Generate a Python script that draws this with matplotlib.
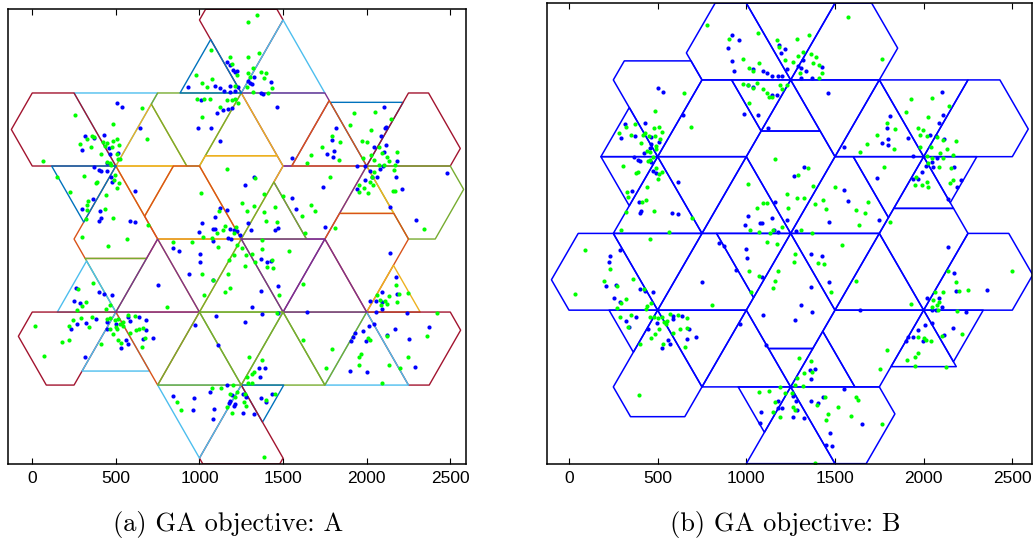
import numpy as np
import matplotlib
matplotlib.use("Agg")
import matplotlib.pyplot as plt

# cell sites (data units)
site_x = [1250, 1250, 2000, 2000, 1250, 500, 500]
site_y = [0, 866, 433, -433, -866, -433, 433]

# MATLAB line colours used for the sector outlines of panel (a)
palette = ["#0072BD", "#D95319", "#EDB120", "#7E2F8E", "#77AC30", "#4DBEEE", "#A2142F"]

# panel (a) sectors: site index, azimuth (deg), triangle side, cap length, colour index
a_site = [6, 6, 6, 6, 6, 6,
          1, 1, 1, 1, 1, 1,
          2, 2, 2, 2, 2, 2,
          3, 3, 3, 3, 3, 3,
          0, 0, 0, 0, 0, 0,
          5, 5, 5, 5, 5, 5,
          4, 4, 4, 4, 4, 4]
a_azim = [90, 150, 30, 330, 270, 210,
          90, 30, 330, 270, 210, 150,
          90, 30, 330, 270, 210, 150,
          90, 30, 330, 270, 210, 150,
          90, 30, 150, 210, 270, 330,
          90, 150, 210, 270, 330, 30,
          90, 30, 330, 270, 210, 150]
a_side = [500, 500, 424, 344, 500, 384,
          500, 500, 500, 430, 500, 366,
          436, 500, 500, 324, 500, 448,
          500, 320, 500, 500, 500, 500,
          500, 390, 500, 500, 500, 500,
          367, 350, 500, 404, 500, 500,
          500, 500, 254, 500, 500, 500]
a_cap = [0, 250, 0, 0, 133, 0,
         73, 0, 52, 0, 76, 0,
         0, 120, 160, 0, 110, 0,
         175, 0, 124, 0, 0, 0,
         70, 0, 156, 0, 0, 0,
         0, 0, 166, 0, 0, 0,
         0, 0, 0, 40, 0, 0]
a_col = [5, 6, 2, 2, 1, 0,
         6, 5, 3, 2, 4, 0,
         0, 6, 4, 2, 3, 1,
         1, 2, 6, 5, 4, 3,
         2, 4, 1, 2, 4, 3,
         4, 5, 6, 5, 1, 3,
         4, 4, 0, 6, 5, 4]

# panel (b) sectors: site index, azimuth, triangle side, cap length
b_site = [6, 6, 6, 6, 6, 6,
          1, 1, 1, 1, 1, 1,
          0, 0, 0, 0, 0, 0,
          2, 2, 2, 2, 2, 2,
          3, 3, 3, 3, 3, 3,
          4, 4, 4, 4, 4, 4,
          5, 5, 5, 5, 5, 5]
b_azim = [90, 150, 210, 270, 330, 30,
          30, 90, 150, 210, 270, 330,
          30, 90, 150, 210, 270, 330,
          30, 90, 150, 210, 270, 330,
          30, 90, 150, 210, 270, 330,
          30, 90, 150, 210, 270, 330,
          30, 90, 150, 210, 270, 330]
b_side = [500, 320, 320, 500, 500, 500,
          500, 500, 500, 333, 333, 500,
          500, 500, 500, 418, 500, 500,
          500, 500, 500, 397, 337, 300,
          500, 500, 500, 500, 368, 336,
          362, 250, 500, 296, 500, 500,
          500, 500, 500, 274, 500, 500]
b_cap = [124, 0, 0, 0, 0, 167,
         207, 0, 176, 0, 0, 0,
         103, 167, 0, 0, 250, 0,
         180, 0, 0, 0, 0, 0,
         230, 163, 0, 138, 0, 0,
         0, 0, 0, 0, 0, 176,
         82, 0, 198, 0, 194, 0]

# user positions, panel (a)
a_blue = [(505, 808), (535, 784), (645, 656), (316, 610), (429, 614), (372, 597), (296, 529), (461, 537),
          (515, 512), (465, 504), (449, 452), (372, 425), (400, 409), (414, 403), (445, 405), (475, 340),
          (471, 369), (362, 235), (296, 181), (406, 167), (615, 282), (585, 106), (617, 102), (412, 122),
          (400, 106), (934, 903), (990, 660), (1068, 660), (1120, 581), (1012, 826), (1094, 907), (1124, 893),
          (1144, 879), (1180, 873), (1213, 879), (1233, 903), (1104, 749), (1140, 765), (1168, 772), (1194, 774),
          (1166, 1051), (1180, 1031), (1198, 1002), (1213, 992), (1227, 998), (1184, 907), (1124, 185), (1164, 171),
          (1014, 96), (998, 43), (1078, 57), (1094, 57), (1184, 57), (1204, 53), (1223, 49), (1094, 132),
          (1168, 9), (1188, 3), (1243, 23),
          (1293, 939), (1303, 923), (1327, 962), (1313, 919), (1367, 867), (1377, 858), (1426, 929), (1462, 784),
          (1552, 480), (1817, 656), (1795, 587), (1807, 523), (1762, 502), (1797, 488), (2101, 784), (2115, 662),
          (2107, 656), (2087, 612), (2041, 547), (2117, 555), (2101, 517), (1941, 432), (1987, 432), (2017, 405),
          (2077, 417), (2097, 432), (2181, 464), (2175, 369), (2210, 294), (2137, 191), (1991, 349), (1941, 296),
          (2031, 369), (2061, 367), (2480, 393), (2296, 112), (1325, 369), (1273, 320), (1552, 241), (1578, 179),
          (1738, 306), (1752, 69), (1293, 96), (1307, 53), (1452, 53), (1472, 63),
          (1004, -89), (1006, -139), (876, -70), (844, -56), (940, -210), (753, -273), (1078, -10), (1080, -240),
          (1100, -457), (1110, -629), (972, -510), (262, -289), (252, -366), (286, -382), (230, -536), (266, -505),
          (402, -313), (429, -327), (477, -333), (380, -477), (322, -495), (445, -491), (499, -501), (449, -536),
          (575, -465), (585, -485), (641, -465), (679, -481), (679, -540), (721, -584), (559, -599), (571, -623),
          (529, -649), (316, -702), (665, -590), (844, -930), (970, -945), (960, -1015), (1080, -1070), (1064, -906),
          (1194, -926), (1174, -975), (1180, -959), (1213, -979), (1204, -989), (1084, -1005), (1164, -866),
          (1367, -121), (1402, -135), (1426, -129), (1367, -307), (1317, -402), (1373, -445), (1273, -491), (1472, -279),
          (1646, -431), (1468, -437), (2141, -81), (2091, -313), (2021, -366), (2055, -366), (2091, -372), (2091, -412),
          (2055, -431), (2181, -323), (2175, -224), (2240, -441), (2011, -516), (1977, -546), (1931, -556), (1917, -580),
          (1907, -605), (1995, -605), (2041, -501), (2121, -570), (2171, -534), (2254, -590), (2370, -520), (2290, -758),
          (2001, -787), (1901, -781), (1359, -767), (1392, -762), (1363, -817), (1263, -916), (1279, -936), (1367, -940),
          (1432, -920), (1398, -969), (1263, -1030), (1327, -1038)]
a_green = [(1068, 1120), (1180, 1081), (1194, 1035), (980, 972), (1016, 923), (1044, 899), (1076, 946), (984, 832),
           (1026, 830), (1064, 832), (1016, 725), (1124, 784), (1164, 824), (1194, 824), (1213, 832), (1233, 804),
           (1223, 972), (1210, 907), (655, 778), (685, 593), (485, 684), (258, 737), (356, 610), (368, 606),
           (326, 591), (286, 561), (350, 547), (412, 506), (449, 571), (481, 583), (507, 591), (475, 547),
           (519, 555), (505, 504), (525, 476), (511, 472), (421, 575), (435, 553), (465, 448), (445, 458),
           (495, 379), (471, 438), (491, 349), (521, 334), (505, 300), (388, 340), (382, 332), (310, 375),
           (226, 276), (150, 369), (66, 464), (334, 225), (330, 201), (326, 172), (324, 118), (441, 262),
           (435, 181), (485, 122), (691, 81), (565, 3), (296, 13), (1164, 413), (1012, 274), (1114, 168),
           (1104, 33), (1150, 77), (1140, 53), (1024, 13), (1076, 9), (1204, 33), (1220, 73),
           (1343, 1328), (1293, 1289), (1293, 1081), (1357, 1105), (1323, 1012), (1293, 986), (1303, 958), (1383, 952),
           (1398, 986), (1367, 992), (1432, 893), (1412, 864), (1287, 899), (1319, 873), (1901, 676), (1927, 745),
           (2047, 753), (2145, 713), (2023, 644), (1793, 610), (1841, 577), (1734, 547), (1670, 496), (1646, 452),
           (1837, 466), (1971, 583), (2001, 577), (2071, 547), (2091, 508), (2181, 516), (2121, 488), (2041, 468),
           (1981, 478), (2025, 498), (2131, 464), (2071, 438), (2105, 438), (2171, 438), (2161, 409), (2041, 399),
           (2031, 369), (2017, 340), (2037, 320), (1985, 300), (1957, 280), (1953, 320), (2005, 270), (2155, 286),
           (2171, 286), (1778, 369), (1668, 201), (1692, 168), (1612, 136), (1502, 255), (1452, 187), (1383, 162),
           (1398, 108), (1333, 359), (1383, 266), (1253, 211), (1327, 195), (1283, 168), (1462, 102), (1632, 33),
           (1811, 63), (2340, 57),
           (455, -40), (844, -20), (958, -20), (1227, -36), (1110, -50), (1204, -95), (1174, -125), (1018, -210),
           (1170, -210), (1078, -244), (1184, -289), (1154, -313), (1028, -329), (366, -259), (272, -299), (322, -372),
           (296, -396), (270, -421), (465, -392), (441, -412), (358, -461), (292, -467), (244, -481), (222, -516),
           (340, -524), (14, -516), (176, -609), (220, -599), (72, -692), (409, -623), (445, -477), (465, -471),
           (495, -481), (515, -477), (525, -505), (545, -491), (545, -516), (501, -520), (505, -536), (465, -534),
           (481, -564), (515, -599), (531, -619), (585, -560), (621, -540), (641, -536), (665, -530), (675, -584),
           (657, -643), (571, -451), (615, -457), (805, -406), (864, -965), (888, -1015), (1074, -886), (1128, -886),
           (1198, -866), (1184, -916), (1223, -906), (1213, -936), (1164, -995), (1194, -1034),
           (1373, -6), (1253, -56), (1279, -95), (1313, -89), (1373, -60), (1273, -159), (1402, -164), (1442, -174),
           (1432, -125), (1333, -139), (1538, -70), (1618, -267), (1476, -333), (1462, -441), (1297, -698), (1373, -718),
           (1327, -787), (1313, -801), (1283, -817), (1293, -856), (1313, -856), (1273, -916), (1267, -965), (1279, -989),
           (1452, -920), (1398, -955), (1386, -1291), (1622, -599), (1795, -653), (1756, -764), (1957, -698), (1967, -679),
           (1955, -748), (2021, -599), (2007, -584), (2121, -576), (2131, -338), (2177, -273), (2191, -323), (2181, -372),
           (2250, -319), (2061, -333), (2077, -362), (2111, -366), (2121, -386), (2087, -392), (2420, -437), (2360, -576),
           (2250, -698), (2200, -767), (2131, -748), (2091, -852)]

# user positions, panel (b)
b_blue = [(922, 1119), (958, 1091), (894, 1048), (922, 975), (930, 916), (1035, 926), (1092, 916), (1114, 907),
          (1142, 888), (1180, 888), (1204, 888), (1227, 926), (1182, 1063), (1193, 1016), (1218, 1039), (1007, 837),
          (1035, 824), (1171, 781), (1142, 781), (988, 672), (1067, 668), (1120, 593), (503, 819), (531, 796),
          (644, 668), (428, 625), (315, 617), (371, 550), (296, 540), (461, 546), (465, 504), (508, 518),
          (456, 480), (424, 452), (367, 433), (390, 414), (403, 408), (465, 405), (475, 354), (488, 339),
          (616, 292), (358, 241), (394, 175), (407, 128), (399, 113), (582, 113), (612, 108), (1163, 179),
          (1011, 98), (992, 47), (1076, 60), (1091, 60), (1146, 85), (1157, 19), (1180, 10), (1227, 76),
          (1321, 978), (1339, 918), (1311, 931), (1292, 945), (1424, 941), (1368, 875), (1311, 879), (1462, 790),
          (1550, 489), (1813, 662), (1791, 597), (1800, 531), (1763, 508), (1800, 499), (1913, 536), (1941, 437),
          (2035, 555), (2069, 550), (2084, 621), (2111, 668), (2101, 796), (2045, 405), (2013, 382), (2054, 376),
          (2073, 424), (2114, 531), (1988, 348), (1938, 307), (1970, 305), (2173, 376), (2208, 301), (2186, 264),
          (2139, 194), (1324, 376), (1268, 326), (1552, 245), (1575, 185), (1735, 314), (1750, 76), (1467, 66),
          (1279, 13),
          (286, -94), (234, -128), (224, -162), (207, -295), (264, -291), (399, -314), (475, -331), (253, -367),
          (286, -385), (428, -323), (320, -493), (377, -474), (337, -527), (446, -540), (497, -504), (584, -466),
          (584, -485), (640, -466), (676, -540), (719, -587), (559, -602), (569, -624), (527, -649), (666, -596),
          (751, -273), (847, -52), (875, -69), (1001, -88), (1005, -137), (941, -207), (1086, -244), (1095, -461),
          (967, -511), (1110, -630), (1180, -944), (1204, -987), (1176, -987), (1080, -1006), (1076, -1072),
          (1362, -116), (1424, -128), (1467, -276), (1362, -305), (1311, -404), (1368, -442), (1274, -489), (1640, -432),
          (2135, -75), (2171, -222), (2182, -323), (2355, -320), (2017, -367), (2088, -367), (2101, -414), (2049, -432),
          (2069, -432), (2239, -442), (2045, -504), (2007, -517), (2167, -532), (2116, -574), (1970, -545), (1941, -583),
          (1913, -587), (1900, -607), (1994, -607), (1387, -767), (1358, -771), (1362, -824), (1264, -916), (1279, -944),
          (1362, -944), (1405, -955), (1430, -922), (1283, -997), (1264, -1034), (1324, -1044), (1654, -1076), (1471, -1125),
          (1452, -1194), (1484, -1200), (1552, -880)]
b_green = [(779, 1176), (1067, 1133), (902, 1097), (979, 984), (1016, 931), (1039, 918), (1071, 960), (1171, 1091),
           (1186, 1050), (1219, 978), (982, 843), (1011, 837), (1039, 819), (1061, 847), (1095, 813), (1118, 794),
           (1129, 772), (1146, 768), (1189, 837), (1199, 813), (1231, 837), (1014, 734), (650, 790), (484, 692),
           (687, 602), (371, 617), (324, 598), (283, 568), (347, 555), (405, 512), (428, 565), (507, 602),
           (480, 593), (522, 574), (452, 550), (484, 551), (512, 533), (418, 555), (493, 493), (490, 474),
           (441, 467), (456, 461), (475, 433), (456, 414), (446, 409), (305, 382), (380, 339), (390, 345),
           (522, 348), (507, 335), (488, 367), (503, 305), (441, 264), (328, 232), (333, 203), (409, 175),
           (437, 188), (480, 128), (320, 123), (691, 85), (296, 19), (565, 10), (1163, 418), (1007, 281),
           (1092, 170), (1114, 170), (1061, 141), (1020, 19), (1071, 10), (1133, 4), (1152, 19), (1227, 220),
           (1236, 141), (1199, 38),
           (1575, 1219), (1763, 984), (1355, 1119), (1287, 1095), (1321, 1025), (1292, 1001), (1364, 1010), (1377, 963),
           (1392, 997), (1411, 950), (1428, 907), (1264, 969), (1302, 907), (1411, 879), (1926, 756), (2045, 762),
           (2145, 721), (1902, 687), (2022, 655), (1791, 621), (1838, 587), (1735, 555), (1966, 597), (1998, 583),
           (1979, 555), (2017, 550), (2073, 546), (2111, 527), (2180, 523), (1979, 489), (2039, 489), (2130, 474),
           (2092, 452), (2017, 439), (2167, 442), (2107, 424), (2045, 424), (2026, 395), (2088, 376), (2152, 367),
           (1678, 503), (1640, 461), (1834, 474), (1778, 373), (1956, 320), (2017, 292), (2026, 264), (1988, 273),
           (1951, 273), (2167, 301), (2148, 282), (1349, 371), (1292, 329), (1377, 269), (1499, 264), (1434, 188),
           (1452, 136), (1387, 166), (1283, 198), (1324, 198), (1616, 132), (1669, 113), (1687, 179), (1635, 47),
           (1810, 66), (1373, 0), (1306, 19),
           (456, -34), (89, -94), (230, -203), (196, -269), (271, -297), (362, -259), (36, -342), (320, -372),
           (292, -391), (268, -423), (424, -316), (465, -391), (441, -410), (437, -429), (290, -470), (352, -461),
           (333, -527), (456, -470), (478, -474), (503, -480), (527, -474), (535, -498), (550, -493), (546, -513),
           (569, -455), (616, -461), (668, -480), (508, -542), (484, -568), (625, -538), (663, -532), (587, -560),
           (653, -643), (461, -589), (531, -624), (403, -626), (804, -406), (396, -910), (1016, -210), (1073, -239),
           (1180, -210), (1161, -269), (1148, -310), (1024, -329), (1114, -47), (1171, -60), (1189, -865), (1218, -903),
           (1161, -950), (1129, -890), (1073, -895), (1189, -1038), (1152, -1006),
           (1537, -66), (1274, -116), (1268, -160), (1405, -165), (1439, -173), (1618, -267), (1475, -333), (1928, -399),
           (2064, -329), (2111, -333), (2135, -210), (2182, -276), (2201, -323), (2248, -320), (2054, -376), (2088, -385),
           (2073, -404), (2045, -414), (2083, -432), (2186, -438), (2105, -579), (1966, -587), (2002, -589), (2013, -602),
           (2039, -607), (2218, -566), (1795, -658), (1966, -677), (1951, -696), (1908, -715), (1951, -748), (2126, -752),
           (2496, -212), (1753, -767), (1296, -701), (1364, -720), (1373, -780), (1324, -790), (1283, -818), (1274, -856),
           (1321, -861), (1255, -903), (1264, -978), (1274, -997), (1443, -922), (1396, -969), (1462, -1021), (1449, -1053),
           (1518, -978), (1618, -925), (1631, -940), (1593, -1031), (1766, -1076), (1387, -1298)]

xticks = [0, 500, 1000, 1500, 2000, 2500]


def unit(ang):
    r = np.radians(ang)
    return np.array([np.cos(r), np.sin(r)])


# Usage: outline of one sector = triangle from the site plus an optional cap beyond it
def sector(k, az, side, cap):
    s = np.array([site_x[k], site_y[k]], dtype=float)
    b1 = s + side * unit(az + 30)
    b2 = s + side * unit(az - 30)
    if cap == 0:
        pts = [s, b1, b2, s]
    else:
        c1 = b1 + cap * unit(az - 30)
        c2 = b2 + cap * unit(az + 30)
        pts = [s, b1, c1, c2, b2, s]
    return np.array(pts)


def style_axes(ax, xlim, ylim):
    ax.set_xlim(*xlim)
    ax.set_ylim(*ylim)
    ax.set_xticks(xticks)
    ax.set_xticklabels([str(t) for t in xticks], fontfamily="Liberation Sans", fontsize=12.5)
    ax.set_yticks([])
    ax.tick_params(axis="x", direction="in", top=True, length=4, width=0.8, pad=5)
    for sp in ax.spines.values():
        sp.set_linewidth(1.1)


fig = plt.figure(figsize=(10.36, 5.41), dpi=100)
ax1 = fig.add_axes([8 / 1036, 77 / 541, 458 / 1036, 455 / 541])
ax2 = fig.add_axes([547 / 1036, 77 / 541, 485 / 1036, 461 / 541])

for k, az, side, cap, c in zip(a_site, a_azim, a_side, a_cap, a_col):
    p = sector(k, az, side, cap)
    ax1.plot(p[:, 0], p[:, 1], color=palette[c], linewidth=1.0)

for k, az, side, cap in zip(b_site, b_azim, b_side, b_cap):
    p = sector(k, az, side, cap)
    ax2.plot(p[:, 0], p[:, 1], color="#0000FF", linewidth=1.1)

for ax, blue, green in [(ax1, a_blue, a_green), (ax2, b_blue, b_green)]:
    bx, by = zip(*blue)
    gx, gy = zip(*green)
    ax.plot(bx, by, "o", color="#0000FF", markersize=3.0, markeredgewidth=0, linestyle="none")
    ax.plot(gx, gy, "o", color="#00FF00", markersize=3.0, markeredgewidth=0, linestyle="none")

style_axes(ax1, (-145, 2594), (-1334, 1364))
style_axes(ax2, (-124, 2611), (-1301, 1300))

fig.text(228 / 1036, 1 - 524 / 541, "(a) GA objective: A", ha="center", va="center",
         fontfamily="cmr10", fontsize=19)
fig.text(785 / 1036, 1 - 524 / 541, "(b) GA objective: B", ha="center", va="center",
         fontfamily="cmr10", fontsize=19)

fig.savefig("out.png", dpi=100)
